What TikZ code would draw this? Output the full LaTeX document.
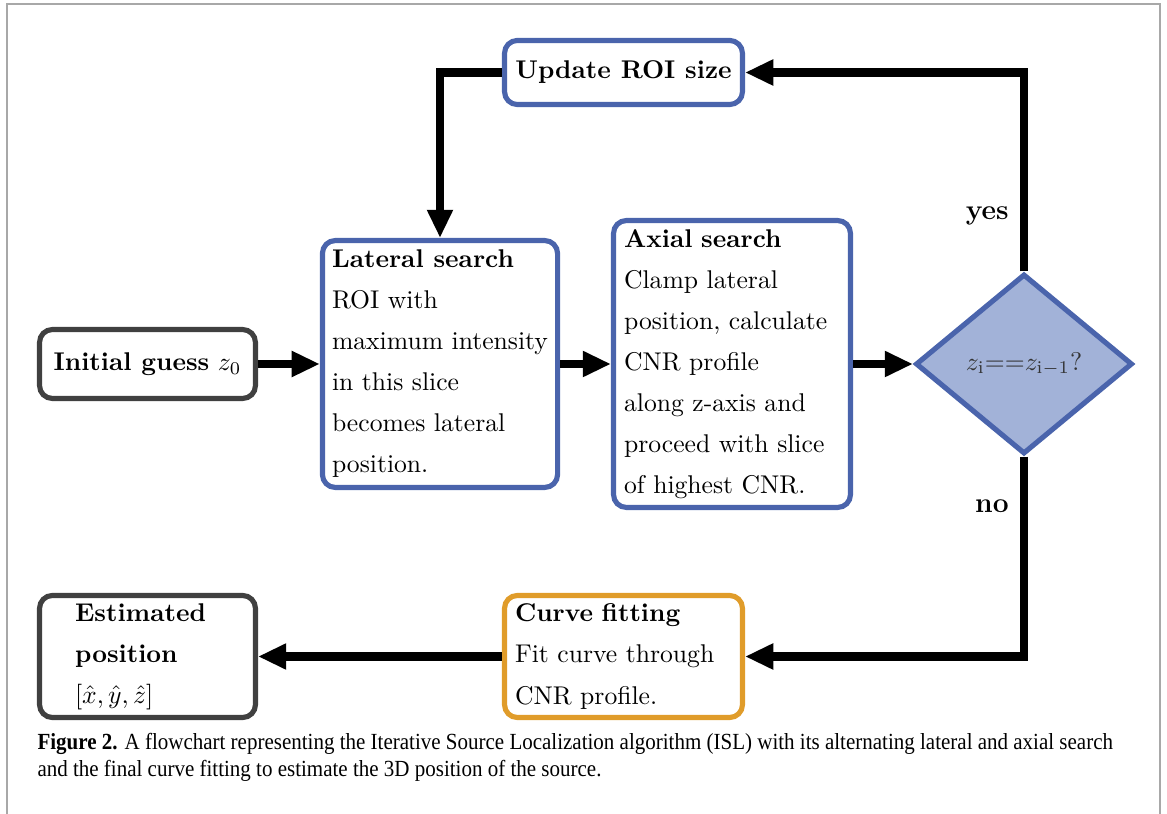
\documentclass[tikz,border=0pt]{standalone}
\usepackage{fontspec}
\newfontfamily\capfont[FakeStretch=0.91]{Liberation Serif}
\usetikzlibrary{arrows.meta,shapes.geometric}
\usepackage{xcolor}
\definecolor{BoxBlue}{HTML}{4A64AC}
\definecolor{DiaFill}{HTML}{A2B2D8}
\definecolor{FitOrange}{HTML}{E09C2A}
\definecolor{EdgeGray}{HTML}{404040}
\definecolor{FrameGray}{HTML}{A8A8A8}

\begin{document}
\begin{tikzpicture}[x=0.39pt,y=-0.39pt,
    box/.style={draw,rounded corners=5pt,line width=2pt,fill=white,align=left,
      inner sep=0pt,font=\fontsize{10pt}{16pt}\selectfont},
    bluebox/.style={box,draw=BoxBlue},
    graybox/.style={box,draw=EdgeGray},
    orangebox/.style={box,draw=FitOrange},
    decision/.style={diamond,draw=BoxBlue,fill=DiaFill,line width=2pt,inner sep=0pt,
      minimum width=84.6pt,minimum height=70.2pt},
    flow/.style={line width=3.3pt,-{Triangle[length=11pt,width=9.5pt]}},
    answer/.style={font=\fontsize{11pt}{13pt}\selectfont\bfseries}]
    \useasboundingbox (0,0) rectangle (1167,814);
    \draw[FrameGray,line width=0.8pt] (7,814) -- (7,4) -- (1160,4) -- (1160,814);

    \node[bluebox,align=center,minimum width=92.8pt,minimum height=25pt] (update)
      at (623.5,72.5) {\textbf{Update ROI size}};
    \node[graybox,minimum width=84.2pt,minimum height=26.9pt] (init)
      at (147.5,364) {\textbf{Initial guess} $z_0$};
    \node[bluebox,minimum width=91.7pt,minimum height=96.3pt] (lateral)
      at (440,364) {\textbf{Lateral search}\\ROI with\\maximum intensity\\in this slice\\becomes lateral\\position.};
    \node[bluebox,text width=84.2pt,minimum width=92.4pt,minimum height=111.9pt] (axial)
      at (732,364) {\textbf{Axial search}\\Clamp lateral\\position, calculate\\CNR profile\\along z-axis and\\proceed with slice\\of highest CNR.};
    \node[decision] (check) at (1024,364)
      {\color{black!80}$z_{\mathrm{i}}{=}{=}z_{\mathrm{i}-1}$?};
    \node[orangebox,text width=84.6pt,minimum width=92.8pt,minimum height=47.6pt] (fit)
      at (623.5,656.5) {\textbf{Curve fitting}\\Fit curve through\\CNR profile.};
    \node[graybox,text width=56.5pt,minimum width=84.2pt,minimum height=47.6pt] (estimate)
      at (147.5,656.5) {\textbf{Estimated}\\\textbf{position}\\$[\hat{x},\hat{y},\hat{z}]$};

    \draw[flow] (init) -- (lateral);
    \draw[flow] (lateral) -- (axial);
    \draw[flow] (axial) -- (check);
    \draw[flow] (check.north) |- (update.east) node[answer,pos=0.14,left=1pt] {yes};
    \draw[flow] (update.west) -| (lateral.north);
    \draw[flow] (check.south) |- (fit.east) node[answer,pos=0.125,left=1pt] {no};
    \draw[flow] (fit) -- (estimate);

    \node[anchor=north west,align=left,inner sep=0pt,
      font=\capfont\fontsize{9pt}{10.6pt}\selectfont] (caption) at (37,733)
      {\textbf{Figure 2.} A flowchart representing the Iterative Source Localization algorithm (ISL) with its alternating lateral and axial search\\
       and the final curve fitting to estimate the 3D position of the source.};
  \end{tikzpicture}
\end{document}
